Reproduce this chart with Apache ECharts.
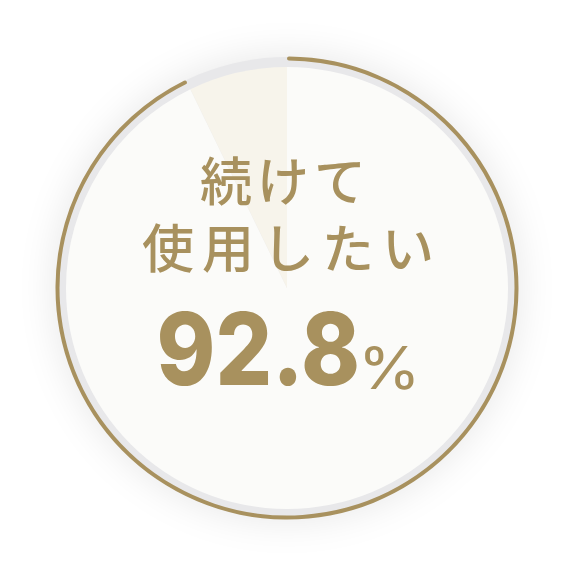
<!DOCTYPE html>
<html>
<head>
<meta charset="utf-8">
<script src="https://cdn.jsdelivr.net/npm/echarts@6/dist/echarts.min.js"></script>
<style>
  html, body { margin: 0; padding: 0; background: #ffffff; }
  #chart { width: 575px; height: 577px; }
</style>
</head>
<body>
<div id="chart"></div>
<script>
// 回答データ
const answerNames = ['続けて使用したい', 'その他'];
const answerValues = [92.8, 7.2];
const titleLines = ['続けて', '使用したい'];
const percentText = '92.8';
const percentUnit = '%';

const GOLD = '#a8915e';
const CENTER = [287, 288];

const chart = echarts.init(document.getElementById('chart'), null, { renderer: 'canvas' });

// 1文字ずつ並べる（字間を広げるため）
function lineChars(text, cx, cy, pitch, size) {
  const chars = text.split('');
  const start = cx - pitch * (chars.length - 1) / 2;
  return chars.map((c, i) => ({
    type: 'text',
    z: 100,
    x: start + pitch * i,
    y: cy,
    style: {
      text: c,
      fill: GOLD,
      fontSize: size,
      fontWeight: 500,
      fontFamily: 'Noto Sans CJK JP',
      align: 'center',
      verticalAlign: 'middle'
    }
  }));
}

const pieData = answerNames.map((name, i) => ({ name: name, value: answerValues[i] }));

const option = {
  backgroundColor: '#ffffff',
  animation: false,
  series: [
    // 影付きの下地（グレーのリング）
    {
      type: 'pie',
      silent: true,
      center: CENTER,
      radius: [0, 231],
      label: { show: false },
      labelLine: { show: false },
      itemStyle: {
        color: '#e8e8ea',
        borderWidth: 0,
        shadowBlur: 40,
        shadowColor: 'rgba(0,0,0,0.10)'
      },
      data: [{ value: 1, name: 'bg' }]
    },
    // 内側の円（割合）
    {
      type: 'pie',
      silent: true,
      center: CENTER,
      radius: [0, 221],
      startAngle: 90,
      clockwise: true,
      label: { show: false },
      labelLine: { show: false },
      itemStyle: { borderWidth: 0 },
      color: ['#fbfbf9', '#f7f4eb'],
      data: pieData
    },
    // 外側の金色の円弧
    {
      type: 'pie',
      silent: true,
      center: CENTER,
      radius: [227.5, 231.5],
      startAngle: 90,
      clockwise: true,
      label: { show: false },
      labelLine: { show: false },
      itemStyle: { borderRadius: 2, borderWidth: 0 },
      data: pieData.map((d, i) => ({
        name: d.name,
        value: d.value,
        itemStyle: { color: i === 0 ? GOLD : 'rgba(0,0,0,0)', borderWidth: 0 }
      }))
    }
  ],
  graphic: [
    ...lineChars(titleLines[0], 283, 181, 57, 52),
    ...lineChars(titleLines[1], 288, 248, 60, 52),
    {
      type: 'text',
      z: 100,
      x: 360,
      y: 405,
      scaleX: 0.89,
      style: {
        text: percentText,
        fill: GOLD,
        fontSize: 100,
        fontWeight: 800,
        fontFamily: 'Inter',
        align: 'right',
        verticalAlign: 'bottom'
      }
    },
    {
      type: 'text',
      z: 100,
      x: 358,
      y: 401,
      scaleX: 1.08,
      style: {
        text: percentUnit,
        fill: GOLD,
        fontSize: 59,
        fontWeight: 400,
        fontFamily: 'Inter',
        align: 'left',
        verticalAlign: 'bottom'
      }
    }
  ]
};

chart.setOption(option);
</script>
</body>
</html>
